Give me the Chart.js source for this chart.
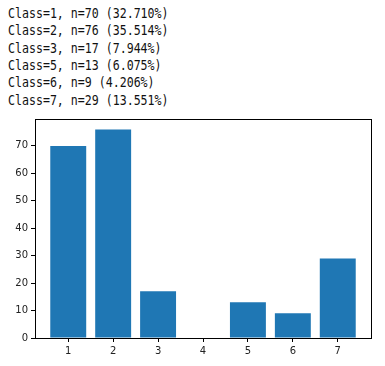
<!DOCTYPE html>
<html>
<head>
<meta charset="utf-8">
<script src="https://cdn.jsdelivr.net/npm/chart.js@4"></script>
<style>
  body { margin: 0; background: #fff; }
  #wrap { position: relative; width: 385px; height: 366px; }
  #summary {
    position: absolute; left: 8px; top: 5px; margin: 0;
    font-family: "DejaVu Sans Mono", monospace; font-size: 11.6px;
    line-height: 15px; color: #111;
    transform: scale(1, 1.16); transform-origin: 0 0;
  }
  canvas { position: absolute; left: 0; top: 0; }
</style>
</head>
<body>
<div id="wrap">
  <pre id="summary"></pre>
  <canvas id="chart" width="385" height="366"></canvas>
</div>
<script>
const classes = [1, 2, 3, 4, 5, 6, 7];
const counts = [70, 76, 17, 0, 13, 9, 29];
const yTicks = [0, 10, 20, 30, 40, 50, 60, 70];

// printed summary, same as the notebook output
const total = counts.reduce((a, b) => a + b, 0);
const lines = [];
classes.forEach((c, i) => {
    if (counts[i] > 0) {
        lines.push('Class=' + c + ', n=' + counts[i] + ' (' + (counts[i] / total * 100).toFixed(3) + '%)');
    }
});
document.getElementById('summary').textContent = lines.join('\n');

const frame = {
    id: 'frame',
    afterDraw(chart) {
        const a = chart.chartArea;
        const ctx = chart.ctx;
        ctx.save();
        ctx.strokeStyle = '#000';
        ctx.lineWidth = 1;
        ctx.strokeRect(Math.round(a.left) + 0.5, Math.round(a.top) + 0.5,
            Math.round(a.right - a.left), Math.round(a.bottom - a.top));
        ctx.restore();
    }
};

const ctx = document.getElementById('chart').getContext('2d');
new Chart(ctx, {
    type: 'bar',
    data: {
        datasets: [{
            data: classes.map((c, i) => ({ x: c, y: counts[i] })),
            backgroundColor: '#1f77b4',
            borderWidth: 0,
            barPercentage: 1,
            categoryPercentage: 0.8,
        }]
    },
    options: {
        responsive: false,
        animation: false,
        layout: { padding: { top: 119, right: 14, left: 0, bottom: 0 } },
        plugins: { legend: { display: false }, tooltip: { enabled: false } },
        scales: {
            x: {
                type: 'linear',
                offset: false,
                min: 0.26,
                max: 7.74,
                afterBuildTicks: s => { s.ticks = classes.map(v => ({ value: v })); },
                afterFit: s => { s.height = 28; },
                grid: { offset: false, drawOnChartArea: false, color: '#000', tickLength: 4 },
                border: { color: '#000' },
                ticks: { color: '#222', font: { family: 'DejaVu Sans', size: 10 }, padding: 3, maxRotation: 0 }
            },
            y: {
                min: 0,
                max: 79.8,
                afterBuildTicks: s => { s.ticks = yTicks.map(v => ({ value: v })); },
                afterFit: s => { s.width = 35; },
                grid: { drawOnChartArea: false, color: '#000', tickLength: 4 },
                border: { color: '#000' },
                ticks: { color: '#222', font: { family: 'DejaVu Sans', size: 10 }, padding: 3 }
            }
        }
    },
    plugins: [frame]
});
</script>
</body>
</html>
